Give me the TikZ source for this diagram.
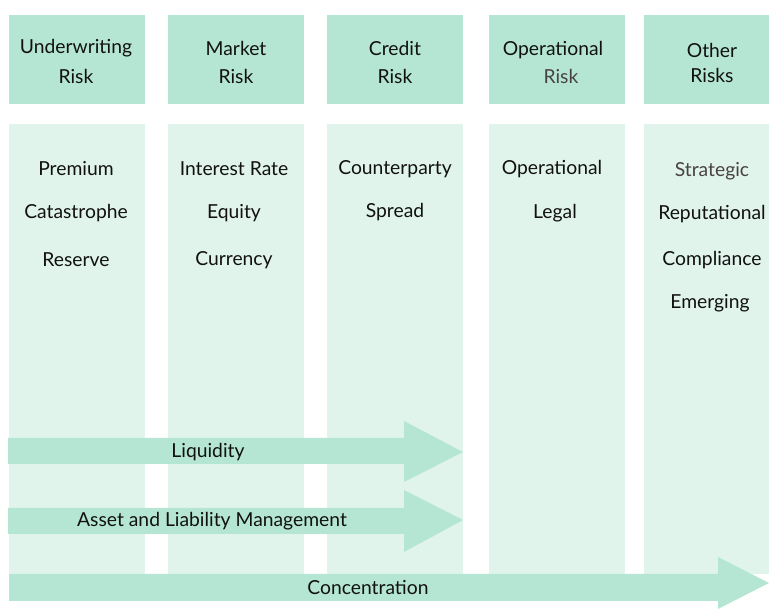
\documentclass[tikz,border=0pt]{standalone}
\usepackage{fontspec}
\setmainfont{Lato}
\definecolor{headc}{HTML}{B5E6D4}
\definecolor{bodyc}{HTML}{E1F4EC}
\definecolor{txt}{HTML}{111111}
\definecolor{gtxt}{HTML}{4A4242}
\tikzset{
  head/.style={fill=headc, draw=none, inner sep=0pt, anchor=north west, minimum height=89pt, align=center, font=\fontsize{19.3}{28}\selectfont, text=txt},
  body/.style={fill=bodyc, draw=none, inner sep=0pt, anchor=north west, minimum height=450pt},
  item/.style={font=\fontsize{19.3}{22}\selectfont, text=txt, inner sep=0pt},
  band/.style={fill=headc, draw=none},
  bandtxt/.style={font=\fontsize{19.3}{22}\selectfont, text=txt, inner sep=0pt}
}
\begin{document}
\begin{tikzpicture}[x=1pt,y=1pt]
\useasboundingbox (0,0) rectangle (769,610);
% body columns
\node[body, minimum width=136pt] (b1) at (9,486) {};
\node[body, minimum width=136pt] (b2) at (168,486) {};
\node[body, minimum width=136pt] (b3) at (327,486) {};
\node[body, minimum width=136pt] (b4) at (489,486) {};
\node[body, minimum width=125pt] (b5) at (644,486) {};
% headers
\node[head, minimum width=136pt] (h1) at (9,595) {};
\node[head, minimum width=136pt] (h2) at (168,595) {};
\node[head, minimum width=136pt] (h3) at (327,595) {};
\node[head, minimum width=136pt] (h4) at (489,595) {};
\node[head, minimum width=125pt] (h5) at (644,595) {};
\node[item] (h1a) at (76,562) {Underwriting};
\node[item] (h1b) at (76,534) {Risk};
\node[item] (h2a) at (236,562) {Market};
\node[item] (h2b) at (236,534) {Risk};
\node[item] (h3a) at (395,562) {Credit};
\node[item] (h3b) at (395,534) {Risk};
\node[item] (h4a) at (553,560) {Operational};
\node[item, text=gtxt] (h4b) at (561,534) {Risk};
\node[item] (h5a) at (712,560) {Other};
\node[item] (h5b) at (712,535) {Risks};
% items
\node[item] (p1) at (76,441) {Premium};
\node[item] (p2) at (76,397) {Catastrophe};
\node[item] (p3) at (76,350) {Reserve};
\node[item] (m1) at (234,441) {Interest Rate};
\node[item] (m2) at (234,397) {Equity};
\node[item] (m3) at (234,350) {Currency};
\node[item] (c1) at (395,441) {Counterparty};
\node[item] (c2) at (395,398) {Spread};
\node[item] (o1) at (552,441) {Operational};
\node[item] (o2) at (555,397) {Legal};
\node[item, text=gtxt] (r1) at (712,439) {Strategic};
\node[item] (r2) at (712,396) {Reputational};
\node[item] (r3) at (712,350) {Compliance};
\node[item] (r4) at (710,307) {Emerging};
% arrows
\fill[band] (8,146) -- (404,146) -- (404,128) -- (463,158) -- (404,189) -- (404,172) -- (8,172) -- cycle;
\fill[band] (8,76) -- (404,76) -- (404,58) -- (463,90) -- (404,120) -- (404,102) -- (8,102) -- cycle;
\fill[band] (9,9) -- (718,9) -- (718,1) -- (769,27) -- (718,53) -- (718,36) -- (9,36) -- cycle;
\node[bandtxt] (liq) at (208,158) {Liquidity};
\node[bandtxt] (alm) at (212,89) {Asset and Liability Management};
\node[bandtxt] (con) at (368,22) {Concentration};
\end{tikzpicture}
\end{document}
